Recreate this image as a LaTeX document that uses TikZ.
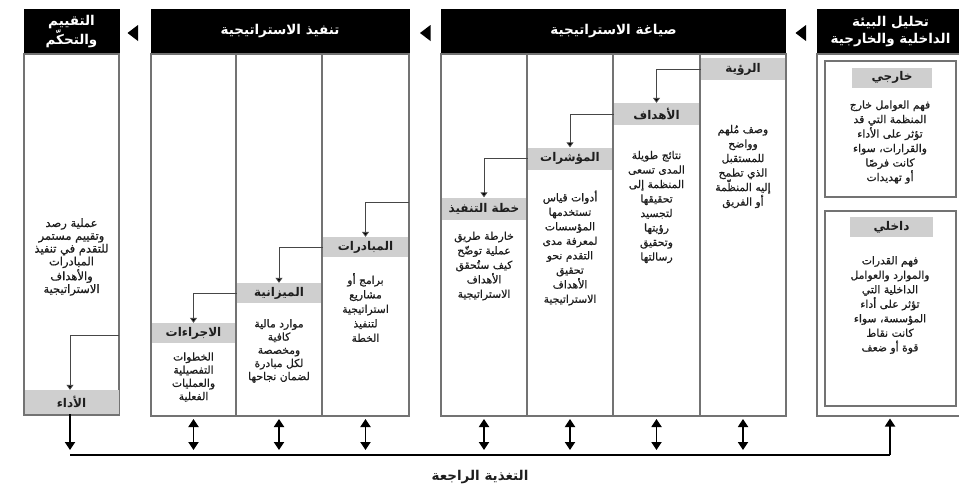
\documentclass[tikz,border=0pt]{standalone}
\usepackage{fontspec}
\usetikzlibrary{arrows.meta}
\TeXXeTstate=1
\newfontfamily\arabicfont[Script=Arabic]{DejaVu Sans}
\newfontfamily\arabicbody[Script=Arabic,FakeBold=0.7]{DejaVu Sans}
\newcommand{\ar}[1]{\beginR #1\endR}
\definecolor{lblgray}{RGB}{207,207,207}
\definecolor{linegray}{RGB}{115,115,115}
\definecolor{conngray}{RGB}{70,70,70}
\definecolor{txt}{RGB}{30,30,30}
\tikzset{
  hdr/.style={fill=black, text=white, inner sep=0pt, align=center,
    font=\arabicfont\bfseries\fontsize{13.5}{17}\selectfont},
  colbox/.style={draw=linegray, line width=1.1pt, inner sep=0pt},
  inbox/.style={draw=linegray, line width=1.1pt, inner sep=0pt},
  lbl/.style={fill=lblgray, inner sep=0pt, minimum height=22pt, text=txt,
    font=\arabicfont\bfseries\fontsize{12}{14}\selectfont},
  body/.style={align=center, inner sep=0pt, text=txt,
    font=\arabicbody\fontsize{10.8}{14.5}\selectfont},
  conn/.style={draw=conngray, line width=0.9pt,
    -{Triangle[width=7pt,length=5pt,fill=black]}},
  dbl/.style={draw=black, line width=1.8pt,
    {Triangle[width=10pt,length=8pt]}-{Triangle[width=10pt,length=8pt]}},
  sgl/.style={draw=black, line width=1.8pt, -{Triangle[width=10pt,length=8pt]}},
}
\begin{document}
\begin{tikzpicture}[x=1pt,y=-1pt]
\useasboundingbox (0,0) rectangle (959,488);
\fill[white] (0,0) rectangle (959,488);

% ---------- headers ----------
\node[hdr, minimum width=96pt, minimum height=45pt] (hEval) at (71.5,31.5) {\ar{التقييم}\\\ar{والتحكّم}};
\node[hdr, minimum width=259pt, minimum height=45pt] (hExec) at (280,31.5) {\ar{تنفيذ الاستراتيجية}};
\node[hdr, minimum width=345pt, minimum height=45pt] (hForm) at (613.5,31.5) {\ar{صياغة الاستراتيجية}};
\node[hdr, minimum width=147pt, minimum height=45pt] (hEnv) at (890.5,31.5) {\ar{تحليل البيئة}\\\ar{الداخلية والخارجية}};

% header arrows
\fill[black] (138,25) -- (127.5,33) -- (138,41) -- cycle;
\fill[black] (430.5,25) -- (420,33) -- (430.5,41) -- cycle;
\fill[black] (806,25) -- (795.5,33) -- (806,41) -- cycle;

% ---------- columns ----------
\node[colbox, minimum width=95pt, minimum height=361pt] (cEval) at (71.5,234.5) {};
\node[colbox, minimum width=85pt, minimum height=362pt] (cE1) at (193.5,235) {};
\node[colbox, minimum width=86pt, minimum height=362pt] (cE2) at (279,235) {};
\node[colbox, minimum width=87pt, minimum height=362pt] (cE3) at (365.5,235) {};
\node[colbox, minimum width=86pt, minimum height=362pt] (cF1) at (484,235) {};
\node[colbox, minimum width=86pt, minimum height=362pt] (cF2) at (570,235) {};
\node[colbox, minimum width=87pt, minimum height=362pt] (cF3) at (656.5,235) {};
\node[colbox, minimum width=86pt, minimum height=362pt] (cF4) at (743,235) {};
\node[colbox, minimum width=147pt, minimum height=362pt] (cEnv) at (890.5,235) {};

% ---------- environment analysis ----------
\node[inbox, minimum width=131pt, minimum height=136pt] (bExt) at (890.5,129) {};
\node[inbox, minimum width=131pt, minimum height=195pt] (bInt) at (890.5,308.5) {};
\node[lbl, minimum width=80pt, minimum height=20pt] (lExt) at (892,77.5) {\ar{خارجي}};
\node[lbl, minimum width=83pt, minimum height=20pt] (lInt) at (891.5,227) {\ar{داخلي}};
\node[body] (tExt) at (890,142) {\ar{فهم العوامل خارج}\\\ar{المنظمة التي قد}\\\ar{تؤثر على الأداء}\\\ar{والقرارات، سواء}\\\ar{كانت فرصًا}\\\ar{أو تهديدات}};
\node[body] (tInt) at (890,305) {\ar{فهم القدرات}\\\ar{والموارد والعوامل}\\\ar{الداخلية التي}\\\ar{تؤثر على أداء}\\\ar{المؤسسة، سواء}\\\ar{كانت نقاط}\\\ar{قوة أو ضعف}};

% ---------- strategy formulation ----------
\node[lbl, minimum width=84pt] (lVision) at (743,69) {\ar{الرؤية}};
\node[lbl, minimum width=85pt] (lGoals) at (656.5,114) {\ar{الأهداف}};
\node[lbl, minimum width=84pt] (lInd) at (570,158.5) {\ar{المؤشرات}};
\node[lbl, minimum width=84pt] (lPlan) at (484,208.5) {\ar{خطة التنفيذ}};

\node[body] (tVision) at (743,166.5) {\ar{وصف مُلهم}\\\ar{وواضح}\\\ar{للمستقبل}\\\ar{الذي تطمح}\\\ar{إليه المنظّمة}\\\ar{أو الفريق}};
\node[body] (tGoals) at (656.5,207) {\ar{نتائج طويلة}\\\ar{المدى تسعى}\\\ar{المنظمة إلى}\\\ar{تحقيقها}\\\ar{لتجسيد}\\\ar{رؤيتها}\\\ar{وتحقيق}\\\ar{رسالتها}};
\node[body] (tInd) at (570,248) {\ar{أدوات قياس}\\\ar{تستخدمها}\\\ar{المؤسسات}\\\ar{لمعرفة مدى}\\\ar{التقدم نحو}\\\ar{تحقيق}\\\ar{الأهداف}\\\ar{الاستراتيجية}};
\node[body] (tPlan) at (484,266) {\ar{خارطة طريق}\\\ar{عملية توضّح}\\\ar{كيف ستُحقق}\\\ar{الأهداف}\\\ar{الاستراتيجية}};

\draw[conn] (lVision.west) -| (lGoals.north);
\draw[conn] (lGoals.west) -| (lInd.north);
\draw[conn] (lInd.west) -| (lPlan.north);

% ---------- strategy execution ----------
\node[lbl, minimum width=85pt, minimum height=20pt] (lInit) at (365.5,247) {\ar{المبادرات}};
\node[lbl, minimum width=84pt, minimum height=20pt] (lBudget) at (279,293) {\ar{الميزانية}};
\node[lbl, minimum width=83pt, minimum height=20pt] (lProc) at (193.5,333) {\ar{الاجراءات}};

\node[body] (tInit) at (365.5,307.5) {\ar{برامج أو}\\\ar{مشاريع}\\\ar{استراتيجية}\\\ar{لتنفيذ}\\\ar{الخطة}};
\node[body, font=\arabicbody\fontsize{10.8}{13.2}\selectfont] (tBudget) at (279,351) {\ar{موارد مالية}\\\ar{كافية}\\\ar{ومخصصة}\\\ar{لكل مبادرة}\\\ar{لضمان نجاحها}};
\node[body, font=\arabicbody\fontsize{10.8}{13.2}\selectfont] (tProc) at (193.5,377) {\ar{الخطوات}\\\ar{التفصيلية}\\\ar{والعمليات}\\\ar{الفعلية}};

\coordinate (cInitIn) at (409,202);
\draw[conn] (cInitIn) -| (lInit.north);
\draw[conn] (lInit.west) -| (lBudget.north);
\draw[conn] (lBudget.west) -| (lProc.north);

% ---------- evaluation ----------
\node[lbl, minimum width=94pt, minimum height=24pt] (lPerf) at (71.5,402) {\ar{الأداء}};
\node[body, font=\arabicbody\fontsize{11.5}{12.8}\selectfont] (tEval) at (71.5,257) {\ar{عملية رصد}\\\ar{وتقييم مستمر}\\\ar{للتقدم في تنفيذ}\\\ar{المبادرات}\\\ar{والأهداف}\\\ar{الاستراتيجية}};
\coordinate (cPerfIn) at (119,335);
\draw[conn] (cPerfIn) -| ([xshift=-1.5pt]lPerf.north);

% ---------- feedback ----------
\coordinate (fbL) at (70,455);
\coordinate (fbR) at (890,455);
\draw[sgl] ([xshift=-1.5pt]lPerf.south) -- ([xshift=-1.5pt]lPerf.south |- 0,450);
\draw[draw=black, line width=1.8pt] (fbL) -- (fbR);
\draw[sgl] (fbR) -- (890,418.5);
\foreach \c in {cE1,cE2,cE3,cF1,cF2,cF3,cF4}{
  \draw[dbl] (\c.south |- 0,419) -- (\c.south |- 0,450);
}
\node[font=\arabicfont\bfseries\fontsize{13.5}{16}\selectfont, text=txt] (tFb) at (480,477) {\ar{التغذية الراجعة}};
\end{tikzpicture}
\end{document}
